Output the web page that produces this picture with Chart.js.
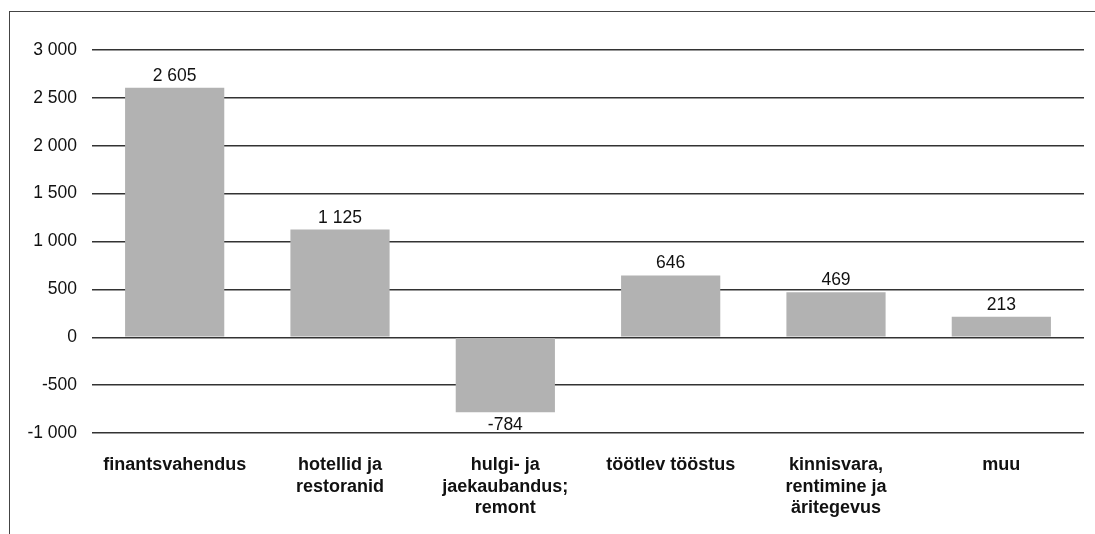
<!DOCTYPE html>
<html>
<head>
<meta charset="utf-8">
<script src="https://cdn.jsdelivr.net/npm/chart.js@4"></script>
<style>
  html, body { margin: 0; padding: 0; background: #fff; overflow: hidden; }
  #frame { position: absolute; left: 9px; top: 11px; width: 1200px; height: 600px;
           border-left: 1.5px solid #444; border-top: 1.5px solid #444; }
  #wrap { position: absolute; left: 0; top: 0; width: 1095px; height: 534px; }
</style>
</head>
<body>
<div id="frame"></div>
<div id="wrap"><canvas id="c" width="1095" height="534"></canvas></div>
<script>
const categories = [
  ["finantsvahendus"],
  ["hotellid ja", "restoranid"],
  ["hulgi- ja", "jaekaubandus;", "remont"],
  ["töötlev tööstus"],
  ["kinnisvara,", "rentimine ja", "äritegevus"],
  ["muu"]
];
const values = [2605, 1125, -784, 646, 469, 213];
const yMin = -1000;
const yMax = 3000;
const yStep = 500;

function fmt(v) {
  const s = String(Math.abs(Math.round(v))).replace(/\B(?=(\d{3})+(?!\d))/g, " ");
  return (v < 0 ? "-" : "") + s;
}

const FONT = "'Liberation Sans', Arial, Helvetica, sans-serif";

const valueLabels = {
  id: "valueLabels",
  afterDatasetsDraw(chart) {
    const ctx = chart.ctx;
    const meta = chart.getDatasetMeta(0);
    ctx.save();
    ctx.font = "17.5px " + FONT;
    ctx.fillStyle = "#111";
    ctx.textAlign = "center";
    meta.data.forEach((bar, i) => {
      const v = chart.data.datasets[0].data[i];
      if (v >= 0) {
        ctx.textBaseline = "alphabetic";
        ctx.fillText(fmt(v), bar.x, bar.y - 7);
      } else {
        ctx.textBaseline = "top";
        ctx.fillText(fmt(v), bar.x, bar.y + 4);
      }
    });
    ctx.restore();
  }
};

new Chart(document.getElementById("c"), {
  type: "bar",
  data: {
    labels: categories,
    datasets: [{
      data: values,
      backgroundColor: "#b2b2b2",
      borderWidth: 0,
      barPercentage: 0.6,
      categoryPercentage: 1.0
    }]
  },
  options: {
    responsive: false,
    animation: false,
    layout: { padding: { top: 50, right: 11, bottom: 0, left: 0 } },
    plugins: { legend: { display: false }, tooltip: { enabled: false } },
    scales: {
      x: {
        grid: { display: false, drawTicks: false },
        border: { display: false },
        ticks: {
          color: "#111",
          font: { family: FONT, size: 18, weight: "bold", lineHeight: 1.17 },
          padding: 22,
          maxRotation: 0,
          autoSkip: false
        },
        afterFit(scale) { scale.height = 101; }
      },
      y: {
        min: yMin,
        max: yMax,
        grid: { color: "#333", lineWidth: 1.5, drawTicks: false },
        border: { display: false },
        ticks: {
          stepSize: yStep,
          color: "#111",
          font: { family: FONT, size: 17.5 },
          padding: 15,
          callback: (v) => fmt(v)
        },
        afterFit(scale) { scale.width = 92; }
      }
    }
  },
  plugins: [valueLabels]
});
</script>
</body>
</html>
